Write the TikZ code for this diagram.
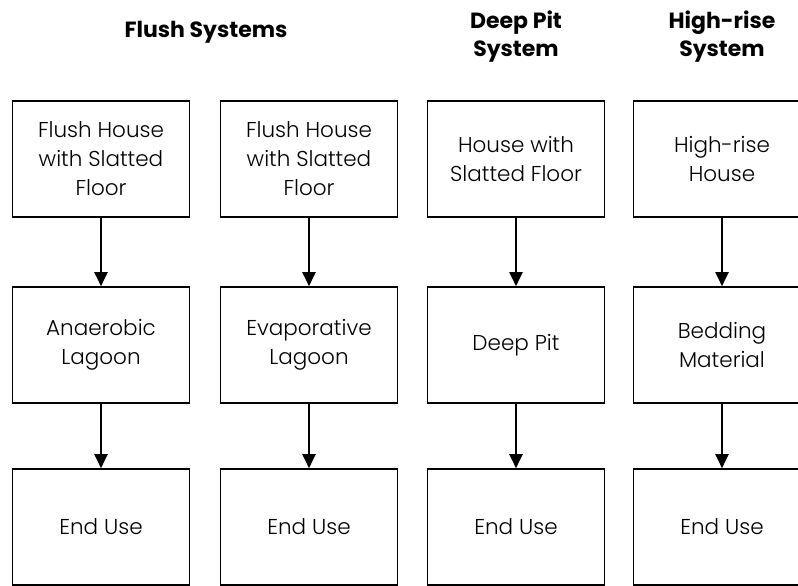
\documentclass[tikz,border=0pt]{standalone}
\usepackage{fontspec}
\setmainfont{Poppins}
\newfontfamily\bodyfont{Poppins Light}
\usetikzlibrary{arrows.meta}
\begin{document}
\begin{tikzpicture}[x=1pt,y=-1pt,
  stagebox/.style={draw=black, line width=1.6pt, rectangle, minimum width=177pt,
    minimum height=116pt, inner sep=0pt, align=center,
    font=\bodyfont\fontsize{21.5}{29}\selectfont},
  header/.style={align=center, font=\bfseries\fontsize{22}{28}\selectfont},
  flow/.style={line width=2pt, -{Triangle[length=14pt,width=13pt]}}]
\useasboundingbox (0,0) rectangle (798,586);
\clip (0,0) rectangle (798,586);

% column headings
\node[header] (h1) at (206,32) {Flush Systems};
\node[header] (h2) at (516,37) {Deep Pit\\System};
\node[header] (h3) at (722,37) {High-rise\\System};

% first column
\node[stagebox] (a1) at (101,159) {Flush House\\with Slatted\\Floor};
\node[stagebox] (a2) at (101,345) {Anaerobic\\Lagoon};
\node[stagebox] (a3) at (101,527) {End Use};

% second column
\node[stagebox] (b1) at (309,159) {Flush House\\with Slatted\\Floor};
\node[stagebox] (b2) at (309,345) {Evaporative\\Lagoon};
\node[stagebox] (b3) at (309,527) {End Use};

% third column
\node[stagebox] (c1) at (516,159) {House with\\Slatted Floor};
\node[stagebox] (c2) at (516,345) {Deep Pit};
\node[stagebox] (c3) at (516,527) {End Use};

% fourth column
\node[stagebox] (d1) at (722,159) {High-rise\\House};
\node[stagebox] (d2) at (722,345) {Bedding\\Material};
\node[stagebox] (d3) at (722,527) {End Use};

\foreach \c in {a,b,c,d} {
  \draw[flow] (\c1) -- (\c2);
  \draw[flow] (\c2) -- (\c3);
}
\end{tikzpicture}
\end{document}
